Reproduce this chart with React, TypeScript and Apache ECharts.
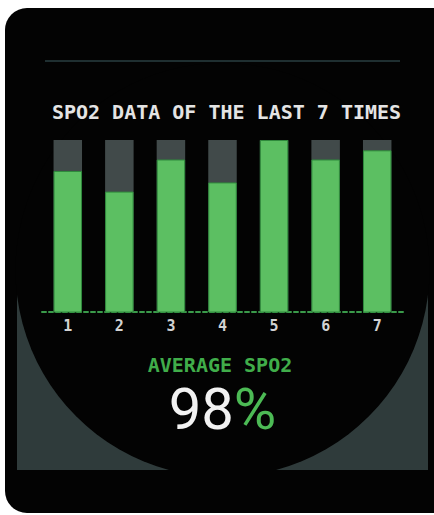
import React, { useEffect, useRef } from 'react';
import * as echarts from 'echarts';

const categories = ['1', '2', '3', '4', '5', '6', '7'];
const spo2Values = [97.3, 95.5, 98.3, 96.3, 100, 98.3, 99.1];
const axisMin = 85;
const axisMax = 100;
const titleText = 'SPO2 DATA OF THE LAST 7 TIMES';
const averageLabel = 'AVERAGE SPO2';
const averageValue = '98';

export default function App() {
  const ref = useRef<HTMLDivElement>(null);
  useEffect(() => {
    if (!ref.current) return;
    const chart = echarts.init(ref.current, null, { renderer: 'svg' });
    const mono = "'DejaVu Sans Mono', monospace";
    chart.setOption({
      animation: false,
      backgroundColor: '#ffffff',
      graphic: [
        {
          type: 'rect', z: 0, silent: true,
          shape: { x: 5, y: 8, width: 440, height: 505, r: [22, 0, 0, 22] },
          style: { fill: '#030303' },
        },
        {
          type: 'rect', z: 0, silent: true,
          shape: { x: 17, y: 270, width: 411, height: 200 },
          style: { fill: '#2f3b3b' },
        },
        {
          type: 'circle', z: 0, silent: true,
          shape: { cx: 222.5, cy: 270, r: 207 },
          style: { fill: '#030303' },
        },
        {
          type: 'rect', z: 0, silent: true,
          shape: { x: 17, y: 470, width: 411, height: 10 },
          style: { fill: '#030303' },
        },
        {
          type: 'line', z: 0, silent: true,
          shape: { x1: 45, y1: 61, x2: 400, y2: 61 },
          style: { stroke: '#1f2f31', lineWidth: 2 },
        },
        {
          type: 'text', z: 5, silent: true,
          style: {
            text: titleText, x: 226.5, y: 112, align: 'center', verticalAlign: 'middle',
            fontFamily: mono, fontSize: 20, fontWeight: 'bold', fill: '#e4e4e4',
          },
        },
        {
          type: 'text', z: 5, silent: true,
          style: {
            text: averageLabel, x: 220, y: 365, align: 'center', verticalAlign: 'middle',
            fontFamily: mono, fontSize: 20, fontWeight: 'bold', fill: '#40ad4a',
          },
        },
        {
          type: 'text', z: 5, silent: true,
          style: {
            text: '{a|' + averageValue + '}{b|%}', x: 222.5, y: 409, align: 'center', verticalAlign: 'middle',
            rich: {
              a: { fontFamily: 'Roboto', fontSize: 58, fill: '#f2f2f2', color: '#f2f2f2' },
              b: { fontFamily: 'Roboto', fontSize: 58, fill: '#4cba55', color: '#4cba55' },
            },
          },
        },
      ],
      grid: { left: 42, right: 31, top: 140, bottom: 203 },
      xAxis: {
        type: 'category',
        data: categories,
        axisLine: { show: true, lineStyle: { color: '#3a9a4a', width: 2, type: [4, 3] } },
        axisTick: { show: false },
        axisLabel: { color: '#d2d2d2', fontFamily: mono, fontWeight: 'bold', fontSize: 15, margin: 6 },
        splitLine: { show: false },
      },
      yAxis: {
        type: 'value', min: axisMin, max: axisMax, show: false,
        splitLine: { show: false },
      },
      series: [
        {
          type: 'bar',
          data: spo2Values,
          barWidth: 28.5,
          showBackground: true,
          backgroundStyle: { color: '#414a4a' },
          itemStyle: { color: '#5cbf62', borderColor: '#2f8a3c', borderWidth: 1 },
          z: 2,
        },
      ],
    });
    return () => chart.dispose();
  }, []);
  return <div ref={ref} style={{ position: 'fixed', left: 0, top: 0, width: 434, height: 515 }} />;
}
